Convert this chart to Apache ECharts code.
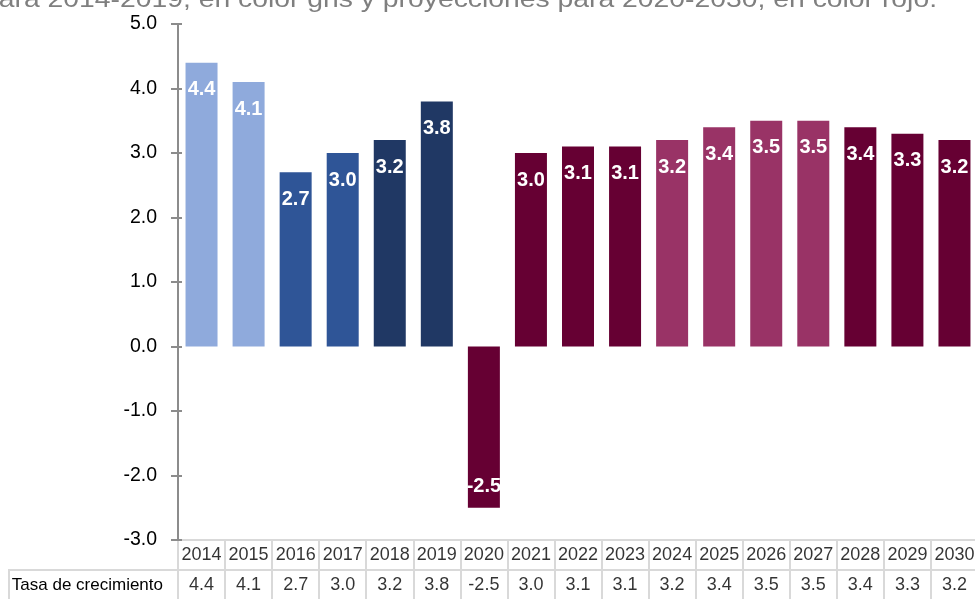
<!DOCTYPE html>
<html>
<head>
<meta charset="utf-8">
<script src="https://cdn.jsdelivr.net/npm/echarts@6/dist/echarts.min.js"></script>
<style>
  html, body { margin: 0; padding: 0; background: #ffffff; }
  #chart { width: 975px; height: 599px; }
</style>
</head>
<body>
<div id="chart"></div>
<script>
// Años y tasas de crecimiento (observadas 2014-2019, proyectadas 2020-2030)
const years = ['2014','2015','2016','2017','2018','2019','2020','2021','2022','2023','2024','2025','2026','2027','2028','2029','2030'];
const growth = [4.4, 4.1, 2.7, 3.0, 3.2, 3.8, -2.5, 3.0, 3.1, 3.1, 3.2, 3.4, 3.5, 3.5, 3.4, 3.3, 3.2];
const rowLabel = 'Tasa de crecimiento';
const yTicks = { min: -3, max: 5, step: 1 };
const subtitle = 'para 2014-2019, en color gris y proyecciones para 2020-2030, en color rojo.';

// Color de cada barra según el tramo de años
function barColor(year) {
  const y = Number(year);
  if (y <= 2015) return '#8faadc';
  if (y <= 2017) return '#2f5597';
  if (y <= 2019) return '#203864';
  if (y >= 2024 && y <= 2027) return '#993366';
  return '#660033';
}

const FONT = '"Liberation Sans", Arial, sans-serif';
const AXIS_GRAY = '#8c8c8c';
const TABLE_GRAY = '#d9d9d9';

const barData = growth.map((v, i) => {
  const item = { value: v, itemStyle: { color: barColor(years[i]) } };
  if (v < 0) item.label = { position: 'insideBottom', distance: 11 };
  return item;
});

// Celdas de la tabla inferior: fila de años y fila de valores
const tableYears = years.map((y, i) => ({ value: [i, 0], label: { formatter: y } }));
const tableValues = growth.map((v, i) => ({ value: [i, 1], label: { formatter: v.toFixed(1) } }));

const chart = echarts.init(document.getElementById('chart'), null, { renderer: 'canvas' });

chart.setOption({
  animation: false,
  backgroundColor: '#ffffff',
  textStyle: { fontFamily: FONT },
  grid: [
    { left: 178, right: -3, top: 24, bottom: 59, containLabel: false, outerBoundsMode: 'none' },
    { left: 178, right: -3, top: 540, height: 60, containLabel: false, outerBoundsMode: 'none' }
  ],
  xAxis: [
    {
      type: 'category', gridIndex: 0, data: years,
      axisLine: { show: false }, axisTick: { show: false }, axisLabel: { show: false },
      splitLine: { show: false }
    },
    {
      type: 'category', gridIndex: 1, data: years,
      axisLine: { show: false }, axisTick: { show: false }, axisLabel: { show: false },
      splitLine: { show: true, lineStyle: { color: TABLE_GRAY, width: 2 } }
    }
  ],
  yAxis: [
    {
      type: 'value', gridIndex: 0, position: 'left',
      min: yTicks.min, max: yTicks.max, interval: yTicks.step,
      axisLine: { show: true, lineStyle: { color: AXIS_GRAY, width: 2 } },
      axisTick: { show: true, length: 7, lineStyle: { color: AXIS_GRAY, width: 2 } },
      axisLabel: {
        margin: 21, color: '#000000', fontSize: 19.5, fontFamily: FONT,
        formatter: v => v.toFixed(1)
      },
      splitLine: { show: false }
    },
    {
      // marcas interiores del eje (las marcas cruzan la línea del eje)
      type: 'value', gridIndex: 0, position: 'left',
      min: yTicks.min, max: yTicks.max, interval: yTicks.step,
      axisLine: { show: false },
      axisTick: { show: true, inside: true, length: 4, lineStyle: { color: AXIS_GRAY, width: 2 } },
      axisLabel: { show: false },
      splitLine: { show: false }
    },
    {
      type: 'category', gridIndex: 1, inverse: true, data: ['', rowLabel],
      axisLine: { show: false }, axisTick: { show: false },
      axisLabel: { margin: 15, color: '#000000', fontSize: 17, fontFamily: FONT },
      splitLine: { show: true, lineStyle: { color: TABLE_GRAY, width: 2 } }
    }
  ],
  graphic: [
    {
      type: 'text', x: 937, y: 12, scaleX: 1.18, scaleY: 1,
      style: {
        text: subtitle, fill: '#7f7f7f', font: '24px ' + FONT,
        textAlign: 'right', textVerticalAlign: 'bottom'
      }
    },
    {
      type: 'rect', shape: { x: 9, y: 570, width: 169, height: 40 },
      style: { fill: 'none', stroke: TABLE_GRAY, lineWidth: 2 }
    }
  ],
  series: [
    {
      type: 'bar', xAxisIndex: 0, yAxisIndex: 0,
      data: barData, barWidth: 32,
      label: {
        show: true, position: 'insideTop', distance: 17,
        color: '#ffffff', fontSize: 20, fontWeight: 'bold', fontFamily: FONT,
        formatter: p => p.value.toFixed(1)
      }
    },
    {
      type: 'scatter', xAxisIndex: 1, yAxisIndex: 2,
      symbolSize: 1, itemStyle: { color: 'rgba(0,0,0,0)' },
      data: tableYears.concat(tableValues),
      label: { show: true, position: 'inside', color: '#000000', fontSize: 18, fontFamily: FONT }
    }
  ]
});
</script>
</body>
</html>
